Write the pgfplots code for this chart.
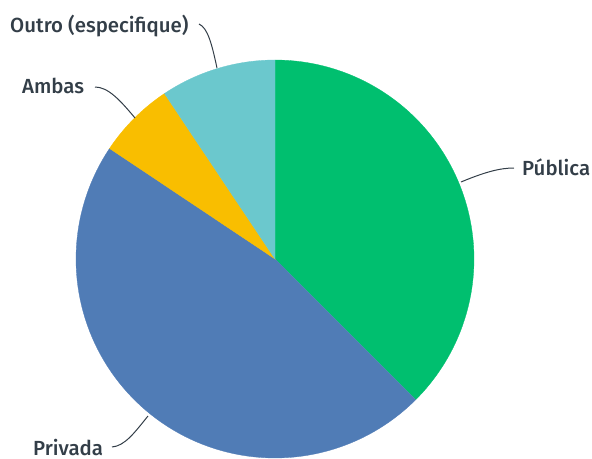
\documentclass[border=0pt]{standalone}
\usepackage{pgfplots}
\pgfplotsset{compat=1.18}
\usepackage{fontspec}
\setmainfont{Fira Sans}[UprightFont=* Medium]
\definecolor{cpub}{HTML}{00BF6F}
\definecolor{cpri}{HTML}{507CB6}
\definecolor{camb}{HTML}{F9BE00}
\definecolor{cout}{HTML}{6BC8CD}
\definecolor{ctxt}{HTML}{333E48}
% responses: Pública 12, Privada 15, Ambas 2, Outro 3 (total 32)
\def\nPub{12}\def\nPri{15}\def\nAmb{2}\def\nOut{3}\def\nTot{32}
\newcommand\slice[3]{%
  \addplot[fill=#3, draw=#3, line width=0.3pt, domain=#1:#2, samples=90, variable=\t]
    ({275+199*cos(\t)},{259-199*sin(\t)}) -- (axis cs:275,259) -- cycle;}
\tikzset{lbl/.style={anchor=base west, text=ctxt, font=\fontsize{20.5}{22}\selectfont, inner sep=0pt}}
\begin{document}
\begin{tikzpicture}
\begin{axis}[
  width=592bp, height=459bp, scale only axis,
  xmin=0, xmax=592, ymin=0, ymax=459, y dir=reverse,
  hide axis, clip=false]
\pgfmathsetmacro\aA{90}
\pgfmathsetmacro\aB{90-360*\nPub/\nTot}
\pgfmathsetmacro\aC{\aB-360*\nPri/\nTot}
\pgfmathsetmacro\aD{\aC-360*\nAmb/\nTot}
\pgfmathsetmacro\aE{\aD-360*\nOut/\nTot}
\slice{\aB}{\aA}{cpub}
\slice{\aC}{\aB}{cpri}
\slice{\aD}{\aC}{camb}
\slice{\aE}{\aD}{cout}
\draw[ctxt, line width=1pt] (axis cs:461,182) .. controls (axis cs:485,172) and (axis cs:500,168) .. (axis cs:514,168);
\node[lbl] at (axis cs:522,175) {Pública};
\draw[ctxt, line width=1pt] (axis cs:148,416) .. controls (axis cs:135,432) and (axis cs:125,446) .. (axis cs:112,447);
\node[lbl] at (axis cs:33,455) {Privada};
\draw[ctxt, line width=1pt] (axis cs:135,118) .. controls (axis cs:120,100) and (axis cs:108,87) .. (axis cs:95,87);
\node[lbl] at (axis cs:22,94) {Ambas};
\draw[ctxt, line width=1pt] (axis cs:217,68) .. controls (axis cs:212,45) and (axis cs:208,28) .. (axis cs:199,24);
\node[lbl] at (axis cs:10,33) {Outro (especifique)};
\end{axis}
\pgfresetboundingbox
\path (current axis.south west) rectangle (current axis.north east);
\end{tikzpicture}
\end{document}
